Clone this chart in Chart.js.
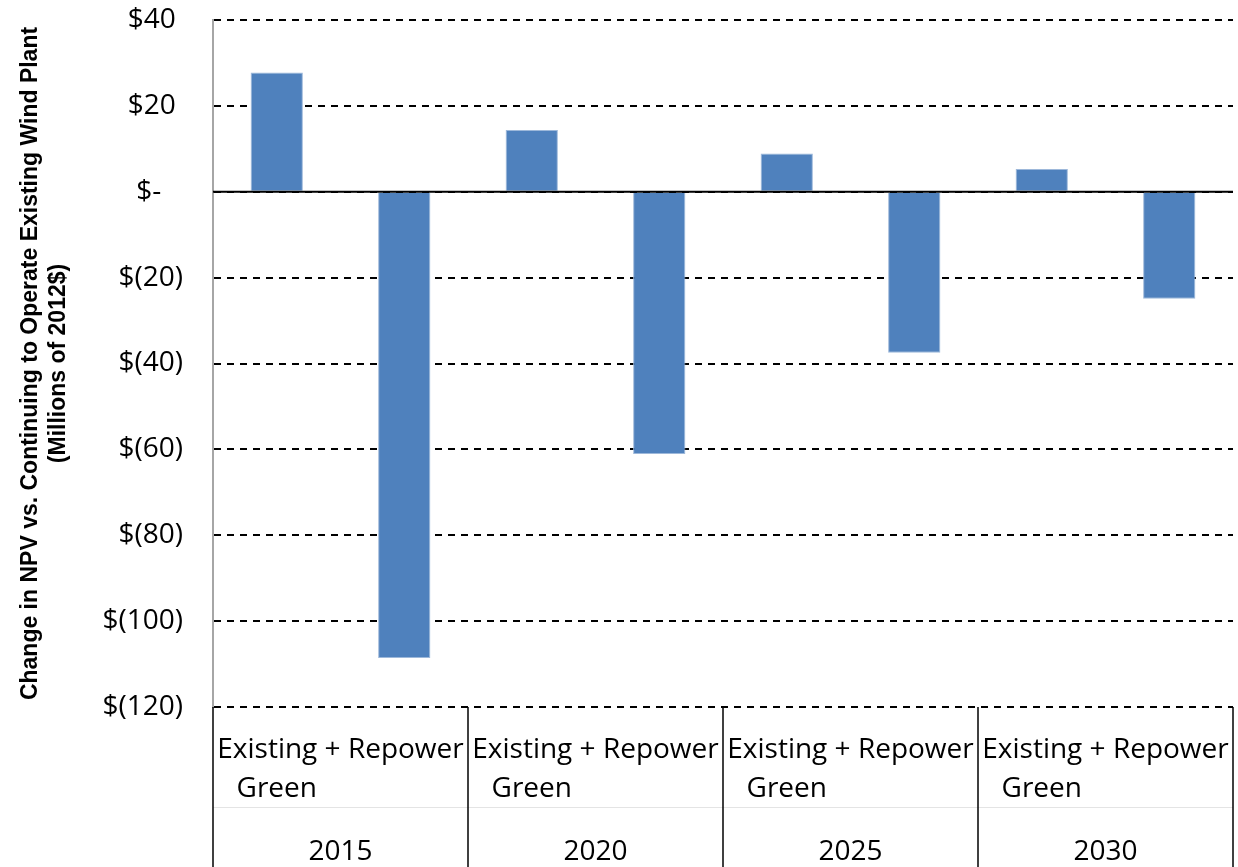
<!DOCTYPE html>
<html>
<head>
<meta charset="utf-8">
<script src="https://cdn.jsdelivr.net/npm/chart.js@4"></script>
<style>
  html, body { margin: 0; padding: 0; background: #fff; }
  #wrap { width: 1238px; height: 867px; }
</style>
</head>
<body>
<div id="wrap"><canvas id="npv"></canvas></div>
<script>
var years = ['2015', '2020', '2025', '2030'];
var scenarios = ['Existing + Repower', 'Green'];
var existingRepower = [27.8, 14.4, 8.9, 5.3];
var green = [-108.6, -61.1, -37.5, -24.9];
var yTicks = [40, 20, 0, -20, -40, -60, -80, -100, -120];
var yTitle = ['Change in NPV vs. Continuing to Operate Existing Wind Plant', '(Millions of 2012$)'];

var tickFont = '"Open Sans", sans-serif';

// one bar per (year, scenario)
var labels = [];
var values = [];
for (var i = 0; i < years.length; i++) {
  labels.push(years[i] + ' ' + scenarios[0]);
  values.push(existingRepower[i]);
  labels.push(years[i] + ' ' + scenarios[1]);
  values.push(green[i]);
}

function money(v) {
  if (v === 0) return '$-   ';
  if (v < 0) return '$(' + Math.abs(v) + ')';
  return '$' + v + ' ';
}

// zero line + excel-like two-level category axis
var categoryAxis = {
  id: 'categoryAxis',
  afterDatasetsDraw: function (chart) {
    var ctx = chart.ctx;
    var x = chart.scales.x, y = chart.scales.y;
    var area = chart.chartArea;
    var slot = (x.right - x.left) / labels.length;
    var y0 = y.getPixelForValue(0);

    ctx.save();
    ctx.strokeStyle = '#000';
    ctx.lineWidth = 2;
    ctx.beginPath();
    ctx.moveTo(area.left, y0);
    ctx.lineTo(area.right, y0);
    ctx.stroke();

    // faint line between rows
    ctx.strokeStyle = '#e4e4e4';
    ctx.lineWidth = 1;
    ctx.beginPath();
    ctx.moveTo(area.left, area.bottom + 100.5);
    ctx.lineTo(area.right, area.bottom + 100.5);
    ctx.stroke();

    ctx.strokeStyle = '#000';
    ctx.lineWidth = 1.5;
    for (var g = 0; g <= years.length; g++) {
      var bx = Math.round(x.left + g * 2 * slot);
      ctx.beginPath();
      ctx.moveTo(bx, area.bottom);
      ctx.lineTo(bx, chart.height);
      ctx.stroke();
    }

    ctx.fillStyle = '#000';
    ctx.font = '28px ' + tickFont;
    ctx.textAlign = 'center';
    ctx.textBaseline = 'middle';
    for (var k = 0; k < years.length; k++) {
      var left = x.getPixelForValue(k * 2);
      var right = x.getPixelForValue(k * 2 + 1);
      var mid = (left + right) / 2;
      ctx.fillText(scenarios[0], mid, area.bottom + 43);
      ctx.fillText(scenarios[1], left, area.bottom + 82);
      ctx.fillText(years[k], mid, area.bottom + 145);
    }
    ctx.restore();
  }
};

new Chart(document.getElementById('npv'), {
  type: 'bar',
  data: {
    labels: labels,
    datasets: [{
      data: values,
      backgroundColor: '#4f81bd',
      borderColor: '#9db8da',
      borderWidth: 1,
      categoryPercentage: 1,
      barPercentage: 0.41
    }]
  },
  options: {
    responsive: true,
    maintainAspectRatio: false,
    animation: false,
    layout: { autoPadding: false, padding: { top: 20, right: 5, bottom: 160, left: 0 } },
    plugins: {
      legend: { display: false },
      tooltip: { enabled: false }
    },
    scales: {
      x: {
        afterFit: function (scale) { scale.height = 0; },
        ticks: { display: false },
        grid: { display: false },
        border: { display: false }
      },
      y: {
        min: -120,
        max: 40,
        afterBuildTicks: function (scale) {
          scale.ticks = yTicks.map(function (v) { return { value: v }; });
        },
        afterFit: function (scale) {
          scale.width = 213;
          scale.paddingTop = 0;
          scale.paddingBottom = 0;
        },
        ticks: {
          color: '#000',
          padding: 30,
          font: { family: tickFont, size: 28 },
          callback: function (v) { return money(v); }
        },
        grid: {
          color: '#000',
          lineWidth: 2,
          drawTicks: false
        },
        border: {
          display: true,
          color: '#a6a6a6',
          width: 2,
          dash: [7, 6]
        },
        title: {
          display: true,
          text: yTitle,
          color: '#000',
          font: { family: 'Liberation Sans Narrow, Arial Narrow, sans-serif', size: 23, weight: 'bold' },
          padding: { top: 17, bottom: 0 }
        }
      }
    }
  },
  plugins: [categoryAxis]
});
</script>
</body>
</html>
